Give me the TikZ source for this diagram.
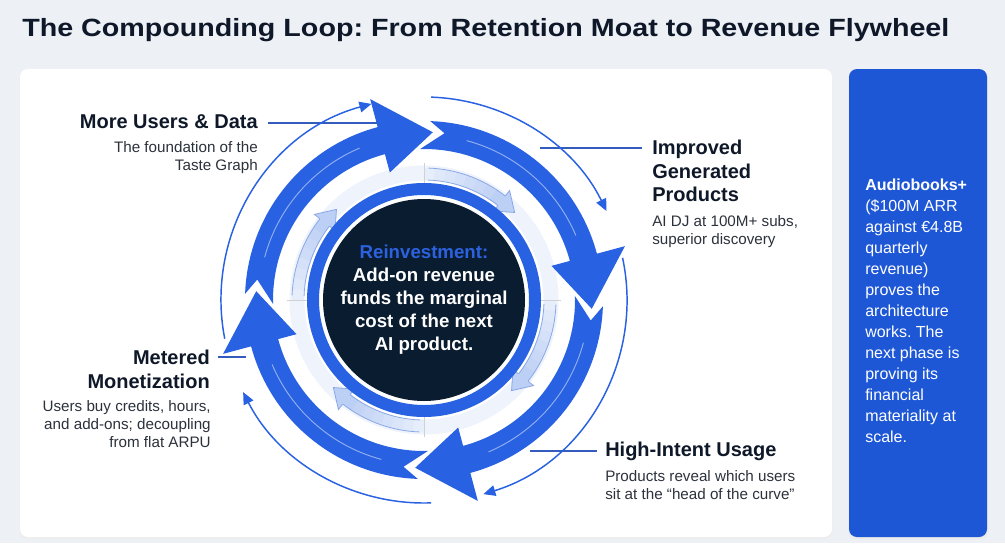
\documentclass[tikz,border=0pt]{standalone}
\usepackage{fontspec}
\setmainfont{Liberation Sans}
\newfontfamily\titlefont[FakeStretch=1.15]{Liberation Sans}
\usetikzlibrary{arrows.meta}

\definecolor{pagebg}{RGB}{237,241,246}
\definecolor{inkNavy}{RGB}{14,24,40}
\definecolor{inkGrey}{RGB}{44,50,60}
\definecolor{flyBlue}{RGB}{40,97,226}
\definecolor{panelBlue}{RGB}{30,87,214}
\definecolor{coreNavy}{RGB}{10,28,47}
\definecolor{paleBlue}{RGB}{188,207,244}
\definecolor{paleEdge}{RGB}{138,168,232}
\definecolor{fadeBlue}{RGB}{238,243,252}
\definecolor{leaderBlue}{RGB}{52,92,190}
\definecolor{reinvestBlue}{RGB}{44,98,224}

\tikzset{
  headlabel/.style={font=\bfseries\fontsize{15}{17.6}\selectfont, text=inkNavy, inner sep=0pt},
  sublabel/.style={font=\fontsize{11.4}{13.5}\selectfont, text=inkGrey, inner sep=0pt},
  leader/.style={leaderBlue, line width=0.9pt},
  orbit/.style={flyBlue, line width=1.1pt, -{Triangle[length=9pt,width=8pt]}},
}

\begin{document}
\frenchspacing
\begin{tikzpicture}[x=0.75pt,y=0.75pt,yscale=-1,xscale=1]
\useasboundingbox (0,0) rectangle (1005,543);
\fill[pagebg] (0,0) rectangle (1005,543);

% Title
\node (title) [anchor=base west, inner sep=0pt, font=\titlefont\bfseries\fontsize{18.7}{22}\selectfont, text=inkNavy] at (22,36) {The Compounding Loop: From Retention Moat to Revenue Flywheel};

% Panels
\fill[black!7, rounded corners=6pt] (19,70) rectangle (833,539);
\fill[white, rounded corners=6pt] (20,69) rectangle (832,537);
\fill[black!8, rounded corners=6pt] (848,70) rectangle (988,539);
\fill[panelBlue, rounded corners=6pt] (849,69) rectangle (987,537);

% Leader lines (under the wheel)
\node (usersHead) [headlabel, anchor=base east] at (258,128) {More Users \& Data};
\node (usersText) [sublabel, anchor=north east, align=right] at (258,141.5) {The foundation of the\\Taste Graph};
\node (prodHead) [headlabel, anchor=north west, align=left] at (652,139.8) {Improved\\Generated\\Products};
\node (prodText) [sublabel, anchor=north west, align=left] at (652,215) {AI DJ at 100M+ subs,\\superior discovery};
\node (meterHead) [headlabel, anchor=north east, align=right] at (210,349.8) {Metered\\Monetization};
\node (meterText) [sublabel, anchor=north east, align=right] at (211,400.6) {Users buy credits, hours,\\and add-ons; decoupling\\from flat ARPU};
\node (intentHead) [headlabel, anchor=north west] at (605,441.8) {High-Intent Usage};
\node (intentText) [sublabel, anchor=north west, align=left] at (605,470.6) {Products reveal which users\\sit at the “head of the curve”};

\coordinate (usersEnd) at (384,123);
\coordinate (prodEnd) at (540,148);
\coordinate (meterEnd) at (246,357);
\coordinate (intentEnd) at (530,451);
\draw[leader] ([xshift=7.5pt]usersHead.east |- usersEnd) -- (usersEnd);
\draw[leader] (prodEnd) -- ([xshift=-7.5pt]prodHead.west |- prodEnd);
\draw[leader] ([xshift=6pt]meterHead.east |- meterEnd) -- (meterEnd);
\draw[leader] (intentEnd) -- ([xshift=-6pt]intentHead.west |- intentEnd);

% Flywheel
\begin{scope}[shift={(424,300)}]
\draw[fadeBlue, line width=11.25pt] (0,0) circle (127);
% light inner arrows
\foreach \c in {0,90,180,270}{
  \foreach \i in {0,...,7}{
    \pgfmathtruncatemacro\p{15+12*\i}
    \draw[paleBlue!\p!fadeBlue, line width=9pt] (\c+\i*4.75:126) arc[start angle=\c+\i*4.75, end angle=\c+\i*4.75+5, radius=126];
  }
  \draw[paleEdge, line width=.6pt] (\c+2:132) arc[start angle=\c+2, end angle=\c+38, radius=132];
  \draw[paleEdge, line width=.6pt] (\c+2:120) arc[start angle=\c+2, end angle=\c+38, radius=120];
  \filldraw[fill=paleBlue, draw=paleEdge, line width=.6pt] (\c+38:132) -- (\c+38:139) -- (\c+46:126) -- (\c+38:113) -- (\c+38:120);
  \draw[black!18, line width=.5pt] (\c:116) -- (\c:137);
}
% thick outer arrows
\foreach \s in {-177,-87,3,93}{
  \pgfmathsetmacro\e{\s+90}
  \fill[flyBlue] (\s-1:179) arc[start angle=\s-1, end angle=\e-18, radius=179] -- (\e-18:208) -- (\e:168) -- (\e-18:132) -- (\e-18:151) arc[start angle=\e-18, end angle=\s-4.5, radius=151] -- (\s+4:168) -- cycle;
  \draw[white, opacity=.5, line width=.7pt] (\s+12:165) arc[start angle=\s+12, end angle=\e-26, radius=165];
}
% thin orbit arrows
\foreach \a/\b in {169/255, 272/334, 348/433, 88/153}
  \draw[orbit] (\a:203) arc[start angle=\a, end angle=\b, radius=203];
% core ring
\draw[flyBlue, line width=9pt] (0,0) circle (111);
\end{scope}

\node (core) [circle, fill=coreNavy, minimum size=151.5pt, inner sep=0pt, align=center, text=white, font=\bfseries\fontsize{14}{17.25}\selectfont] at (424,300) {\textcolor{reinvestBlue}{Reinvestment:}\\Add-on revenue\\funds the marginal\\cost of the next\\AI product.};

% Side panel
\node (panelText) [anchor=north west, align=left, inner sep=0pt, text=white, font=\fontsize{12}{15.7}\selectfont] at (865,179) {\textbf{Audiobooks+}\\(\$100M ARR\\against €4.8B\\quarterly\\revenue)\\proves the\\architecture\\works. The\\next phase is\\proving its\\financial\\materiality at\\scale.};
\end{tikzpicture}
\end{document}
